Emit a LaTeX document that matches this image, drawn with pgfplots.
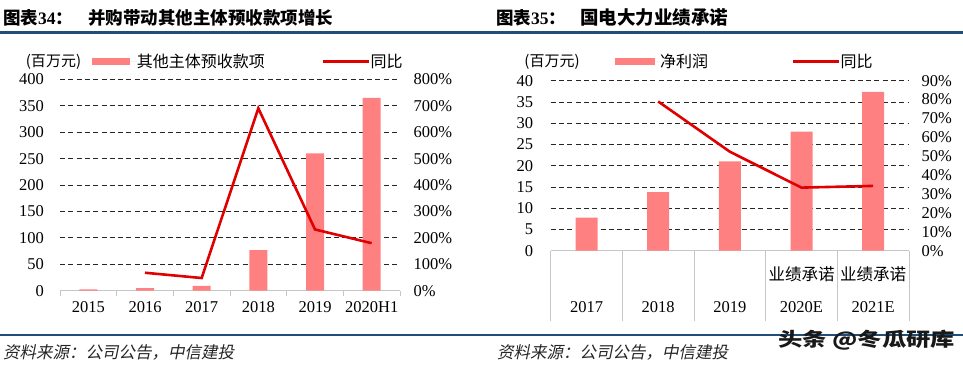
\documentclass[border=0pt]{standalone}
\usepackage{pgfplots}
\pgfplotsset{compat=1.18}
\usepackage{fontspec}
\setmainfont{Liberation Serif}
\newfontfamily\cjk{Noto Sans CJK SC}
\newfontfamily\cjkit[FakeSlant=0.2]{Noto Sans CJK SC}
\definecolor{barc}{HTML}{FF8080}
\definecolor{linec}{HTML}{E00000}
\definecolor{rulec}{HTML}{1F4E79}
\pgfplotsset{
  common/.style={
    scale only axis, enlargelimits=false,
    /pgf/number format/assume math mode=true,
    tick label style={font=\fontsize{16.5}{18}\selectfont, black},
    legend style={draw=none, fill=none, inner sep=0pt, outer sep=0pt,
      nodes={inner sep=0pt, anchor=west}, anchor=west,
      font=\cjk\fontsize{16}{18}\selectfont},
  },
  leftax/.style={common,
    axis x line*=bottom, axis y line*=left,
    x axis line style={gray!45, line width=0.9pt, -},
    y axis line style={draw=none},
    major tick length=0pt, tick align=outside,
    minor tick style={gray!45, line width=0.9pt},
    ymajorgrids, grid style={dash pattern=on 5pt off 3.3pt, black!85, line width=0.9pt},
    extra y ticks={0}, extra y tick style={grid=none},
    yticklabel style={xshift=-12.5pt},
  },
  rightax/.style={common,
    axis x line=none, axis y line*=right,
    y axis line style={draw=none}, xtick=\empty,
    major tick length=0pt,
    yticklabel={\pgfmathprintnumber{\tick}\%},
  },
}
\begin{document}
\begin{tikzpicture}
\useasboundingbox (0pt,0pt) rectangle (963pt,-366pt);
\fill[white] (0pt,0pt) rectangle (963pt,-366pt);
% rules
\draw[rulec, line width=2.5pt] (0pt,-32.3pt) -- (963pt,-32.3pt);
\draw[rulec, line width=2.5pt] (0pt,-335pt) -- (963pt,-335pt);
% titles
\node[anchor=west, inner sep=0pt] at (3pt,-17.5pt) {\fontsize{17.5}{20}\selectfont{\cjk\bfseries 图表}\textbf{34}{\cjk\bfseries ：}};
\node[anchor=west, inner sep=0pt] at (88pt,-17.5pt) {\fontsize{17.5}{20}\selectfont\cjk\bfseries 并购带动其他主体预收款项增长};
\node[anchor=west, inner sep=0pt] at (496pt,-17.5pt) {\fontsize{17.5}{20}\selectfont{\cjk\bfseries 图表}\textbf{35}{\cjk\bfseries ：}};
\node[anchor=west, inner sep=0pt] at (580pt,-17.5pt) {\fontsize{18.5}{20}\selectfont\cjk\bfseries 国电大力业绩承诺};
% units
\node[inner sep=0pt] at (53.5pt,-61.5pt) {\cjk\fontsize{15}{17}\selectfont (百万元)};
\node[inner sep=0pt] at (552pt,-61.5pt) {\cjk\fontsize{15}{17}\selectfont (百万元)};
% sources
\node[anchor=west, inner sep=0pt, black!85] at (3pt,-352pt) {\cjkit\fontsize{16.5}{18}\selectfont 资料来源：公司公告，中信建投};
\node[anchor=west, inner sep=0pt, black!85] at (497pt,-352pt) {\cjkit\fontsize{16.5}{18}\selectfont 资料来源：公司公告，中信建投};

% ---------- left chart ----------
\begin{axis}[leftax,
  at={(60pt,-290.7pt)}, anchor=south west,
  width=340pt, height=211.2pt,
  xmin=-0.5, xmax=5.5, ymin=0, ymax=400,
  ytick={50,100,...,400},
  xtick={0,1,2,3,4,5},
  xticklabels={2015,2016,2017,2018,2019,2020H1},
  xticklabel style={yshift=-7pt},
  minor xtick={-0.5,0.5,...,5.5}, minor tick length=5pt,
  legend style={at={(0.0941,1.0852)}},
]
\addplot[ybar, bar width=18pt, fill=barc, draw=none,
  legend image code/.code={\fill[barc] (0pt,-3.7pt) rectangle (38pt,3.7pt); \path (0pt,0pt) -- (45pt,0pt);}]
  coordinates {(0,2.6) (1,5) (2,9) (3,77) (4,260) (5,365)};
\addlegendentry{其他主体预收款项}
\end{axis}
\begin{axis}[rightax,
  at={(60pt,-290.7pt)}, anchor=south west,
  width=340pt, height=211.2pt,
  xmin=-0.5, xmax=5.5, ymin=0, ymax=800,
  ytick={0,100,...,800},
  yticklabel style={xshift=10pt},
  legend style={at={(0.7706,1.0852)}},
]
\addplot[linec, line width=2.6pt, no markers,
  legend image code/.code={\draw[linec, line width=2.6pt] (0pt,0pt) -- (41pt,0pt); \path (0pt,0pt) -- (46pt,0pt);}]
  coordinates {(1,68) (2,48) (3,691) (4,232) (5,180)};
\addlegendentry{同比}
\end{axis}

% ---------- right chart ----------
\begin{axis}[leftax,
  at={(550.7pt,-250.7pt)}, anchor=south west,
  width=358.3pt, height=170pt,
  xmin=-0.5, xmax=4.5, ymin=0, ymax=40,
  ytick={5,10,...,40},
  yticklabel style={xshift=-1.5pt},
  xtick={0,1,2,3,4},
  xticklabels={2017,2018,2019,2020E,2021E},
  xticklabel style={yshift=-47pt},
  extra x ticks={3,4}, extra x tick labels={\cjk 业绩承诺,\cjk 业绩承诺},
  extra x tick style={grid=none, major tick length=0pt, xticklabel style={yshift=35pt}},
  minor xtick={-0.5,0.5,...,4.5}, minor tick length=70pt,
  legend style={at={(0.1795,1.1129)}},
]
\addplot[ybar, bar width=22pt, fill=barc, draw=none,
  legend image code/.code={\fill[barc] (0pt,-3.85pt) rectangle (40pt,3.85pt); \path (0pt,0pt) -- (45pt,0pt);}]
  coordinates {(0,7.8) (1,13.8) (2,21.0) (3,28.0) (4,37.4)};
\addlegendentry{净利润}
\end{axis}
\begin{axis}[rightax,
  at={(550.7pt,-250.7pt)}, anchor=south west,
  width=358.3pt, height=170pt,
  xmin=-0.5, xmax=4.5, ymin=0, ymax=90,
  ytick={0,10,...,90},
  yticklabel style={xshift=9pt},
  legend style={at={(0.6735,1.1129)}},
]
\addplot[linec, line width=2.6pt, no markers,
  legend image code/.code={\draw[linec, line width=2.6pt] (0pt,0pt) -- (41pt,0pt); \path (0pt,0pt) -- (46pt,0pt);}]
  coordinates {(1,79) (2,52.4) (3,33.4) (4,34.3)};
\addlegendentry{同比}
\end{axis}

% watermark
\node[anchor=west, inner sep=0pt, xscale=1.28, black!90] at (778pt,-340pt) {\cjk\bfseries\fontsize{19}{21}\selectfont 头条 @冬瓜研库};
\end{tikzpicture}
\end{document}
